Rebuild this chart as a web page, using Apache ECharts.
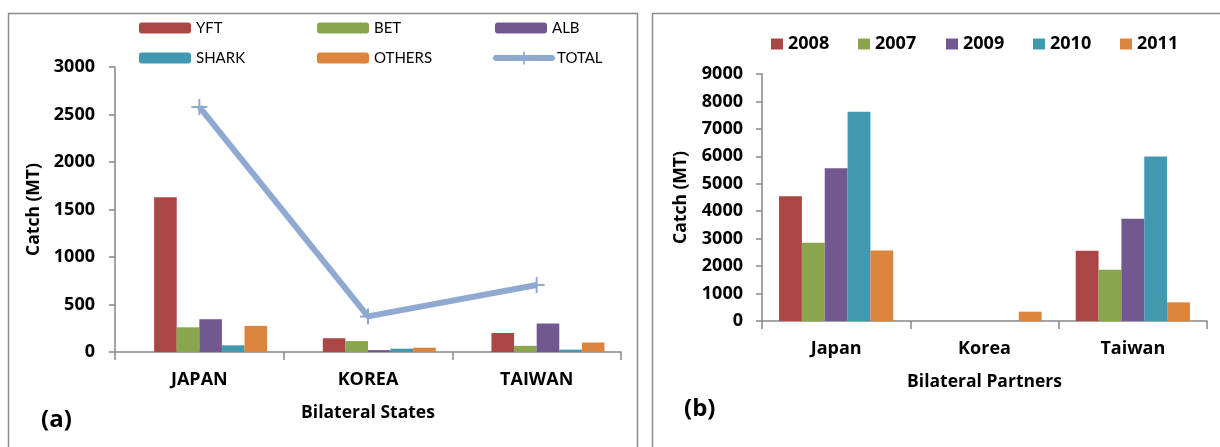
<!DOCTYPE html>
<html>
<head>
<meta charset="utf-8">
<script src="https://cdn.jsdelivr.net/npm/echarts@6/dist/echarts.min.js"></script>
<style>
html,body{margin:0;padding:0;background:#fff;}
#chart{width:1220px;height:447px;}
</style>
</head>
<body>
<div id="chart"></div>
<script>
// ---- Panel (a) data ----
const categoriesA = ['JAPAN', 'KOREA', 'TAIWAN'];
const yft = [1630, 145, 200];
const bet = [260, 115, 65];
const alb = [345, 20, 300];
const shark = [70, 35, 25];
const others = [275, 45, 100];
const total = [2580, 375, 705];
const ticksA = [0, 500, 1000, 1500, 2000, 2500, 3000];

// ---- Panel (b) data ----
const categoriesB = ['Japan', 'Korea', 'Taiwan'];
const y2008 = [4550, 0, 2560];
const y2007 = [2850, 0, 1870];
const y2009 = [5570, 0, 3730];
const y2010 = [7620, 0, 5990];
const y2011 = [2570, 340, 680];
const ticksB = [0, 1000, 2000, 3000, 4000, 5000, 6000, 7000, 8000, 9000];

const FONT = 'Open Sans';
const LFONT = 'Lato';
const AX = '#868686';
const colorsA = {YFT:'#AA4643', BET:'#89A54E', ALB:'#71588F', SHARK:'#4198AF', OTHERS:'#DB843D', TOTAL:'#8FA9D1'};
const colorsB = {'2008':'#AA4643', '2007':'#89A54E', '2009':'#71588F', '2010':'#4198AF', '2011':'#DB843D'};
const plusPath = 'path://M-1,-8 L1,-8 L1,-1 L8,-1 L8,1 L1,1 L1,8 L-1,8 L-1,1 L-8,1 L-8,-1 L-1,-1 Z';

const chart = echarts.init(document.getElementById('chart'), null, {renderer: 'canvas'});

function yAxisCfg(gridIndex, ticks, nameGap, margin) {
  return {
    type: 'value', gridIndex: gridIndex,
    min: ticks[0], max: ticks[ticks.length - 1], interval: ticks[1] - ticks[0],
    name: 'Catch (MT)', nameLocation: 'middle', nameGap: nameGap, nameRotate: 90,
    nameTextStyle: {fontFamily: FONT, fontWeight: 'bold', fontSize: 17.5, color: '#000'},
    axisLine: {show: true, lineStyle: {color: AX, width: 1.5}},
    axisTick: {show: true, length: 6, lineStyle: {color: AX, width: 1.5}},
    splitLine: {show: false},
    axisLabel: {fontFamily: FONT, fontWeight: 'bold', fontSize: 18, color: '#000', margin: margin,
      formatter: v => String(v)}
  };
}
function xAxisCfg(gridIndex, cats, name) {
  return {
    type: 'category', gridIndex: gridIndex, data: cats,
    name: name, nameLocation: 'middle', nameGap: 52,
    nameTextStyle: {fontFamily: FONT, fontWeight: 'bold', fontSize: 17.5, color: '#000'},
    axisLine: {show: true, lineStyle: {color: AX, width: 1.5}},
    axisTick: {show: true, length: 8, alignWithLabel: false, lineStyle: {color: AX, width: 1.5}},
    axisLabel: {fontFamily: FONT, fontWeight: 'bold', fontSize: 18, color: '#000', margin: 19}
  };
}

// empty leading slot (the source chart reserves an unused first bar position)
const seriesA = [{
  name: '_slot', type: 'bar', xAxisIndex: 0, yAxisIndex: 0, data: [],
  barGap: '0%', barCategoryGap: '19.6%', animation: false
}];
[
  ['YFT', yft], ['BET', bet], ['ALB', alb], ['SHARK', shark], ['OTHERS', others]
].forEach(([n, d]) => seriesA.push({
  name: n, type: 'bar', xAxisIndex: 0, yAxisIndex: 0, data: d,
  barGap: '0%', barCategoryGap: '19.6%',
  itemStyle: {color: colorsA[n]}, animation: false
}));
seriesA.push({
  name: 'TOTAL', type: 'line', xAxisIndex: 0, yAxisIndex: 0, data: total,
  symbol: plusPath, symbolSize: 16, showSymbol: true,
  lineStyle: {color: colorsA.TOTAL, width: 6},
  itemStyle: {color: colorsA.TOTAL}, z: 5, animation: false
});

const seriesB = [
  ['2008', y2008], ['2007', y2007], ['2009', y2009], ['2010', y2010], ['2011', y2011]
].map(([n, d]) => ({
  name: n, type: 'bar', xAxisIndex: 1, yAxisIndex: 1, data: d,
  barGap: '0%', barCategoryGap: '23%',
  itemStyle: {color: colorsB[n]}, animation: false
}));

// Legends (one per item for exact placement)
const legendPosA = [
  ['YFT', 139, 20], ['BET', 317, 20], ['ALB', 495, 20],
  ['SHARK', 139, 50], ['OTHERS', 317, 50], ['TOTAL', 493, 50]
];
const legends = legendPosA.map(([n, x, y]) => ({
  data: [n], left: x, top: y, padding: 0, orient: 'horizontal',
  itemWidth: n === 'TOTAL' ? 56 : 52, itemHeight: n === 'TOTAL' ? 16 : 11,
  selectedMode: false,
  lineStyle: {width: 6, cap: 'round'},
  textStyle: {fontFamily: LFONT, fontSize: 15, color: '#000', lineHeight: 16}
}));
const legendPosB = [['2008', 771], ['2007', 858], ['2009', 946], ['2010', 1033], ['2011', 1120]];
legendPosB.forEach(([n, x]) => legends.push({
  data: [n], left: x, top: 35, padding: 0, itemWidth: 12, itemHeight: 11,
  selectedMode: false, icon: 'rect',
  textStyle: {fontFamily: FONT, fontSize: 18, fontWeight: 'bold', color: '#000', lineHeight: 18}
}));

chart.setOption({
  animation: false,
  backgroundColor: '#fff',
  grid: [
    {left: 115, right: 599, top: 67, bottom: 95},
    {left: 762, right: 13, top: 74, bottom: 126}
  ],
  xAxis: [xAxisCfg(0, categoriesA, 'Bilateral States'), xAxisCfg(1, categoriesB, 'Bilateral Partners')],
  yAxis: [yAxisCfg(0, ticksA, 72, 20), yAxisCfg(1, ticksB, 72, 19)],
  legend: legends,
  series: seriesA.concat(seriesB),
  graphic: [
    {type: 'rect', shape: {x: 8.5, y: 13.5, width: 629, height: 460}, style: {fill: 'none', stroke: '#8c8c8c', lineWidth: 1.5}, silent: true},
    {type: 'rect', shape: {x: 652.5, y: 13.5, width: 600, height: 460}, style: {fill: 'none', stroke: '#8c8c8c', lineWidth: 1.5}, silent: true},
    {type: 'text', left: 41, top: 408, style: {text: '(a)', fontFamily: FONT, fontWeight: 'bold', fontSize: 24, fill: '#000'}},
    {type: 'text', left: 684, top: 397, style: {text: '(b)', fontFamily: FONT, fontWeight: 'bold', fontSize: 24, fill: '#000'}}
  ]
});
</script>
</body>
</html>
